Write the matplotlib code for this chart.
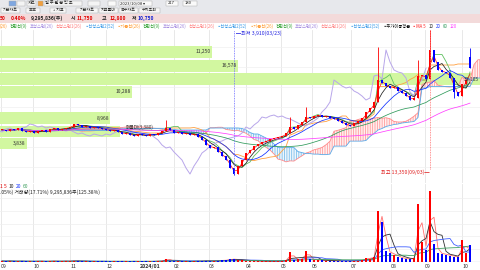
import matplotlib.pyplot as plt
import matplotlib.patches as mpatches
import numpy as np
import pandas as pd

plt.rcParams['font.family'] = ['Noto Sans CJK KR', 'DejaVu Sans']
plt.rcParams['hatch.linewidth'] = 0.6

W, H = 480, 270

# ---- data (roughly 2 trading days per bar) ----
closes = [6850, 6785, 6915, 6850, 6980, 6785, 6720, 6785, 6655, 6785,
          6850, 6720, 6915, 6980, 6850, 6915, 6980, 7045, 7240, 7175,
          7045, 7110, 6980, 7045, 6980, 6915, 6850, 6785, 6850, 6720,
          6590, 6655, 6525, 6460, 6590, 6525, 6460, 6590, 6525, 6655,
          6785, 6980, 6850, 6655, 6720, 6590, 6655, 6525, 6590, 6395,
          6200, 5875, 5680, 5745, 5420, 5160, 4900, 4380, 3990, 4510,
          4900, 5355, 5550, 5810, 5940, 6070, 6135, 6265, 6330, 6395,
          6460, 6655, 7045, 6915, 7175, 7370, 7695, 7630, 7760, 7825,
          7695, 7760, 7630, 7565, 7435, 7305, 7175, 7110, 7305, 7435,
          7630, 8020, 8280, 8670, 10100, 9905, 9710, 9580, 9645, 9385,
          9255, 9060, 8800, 8930, 10360, 10425, 10165, 12050, 11270, 10750,
          10620, 10555, 10230, 9320, 9060, 9840, 10100, 10880]
open_overrides = {117: 11600}
spike_highs = {41: 7500, 72: 7695, 76: 8345, 94: 12245, 104: 11400, 107: 13350, 117: 12180}
spike_lows = {58: 3910, 113: 8930}

volumes = [0.5, 0.4, 0.6, 0.3, 0.4, 0.5, 0.3, 0.4, 0.3, 0.5,
           0.4, 0.3, 0.4, 0.6, 0.3, 0.4, 0.5, 0.4, 0.8, 0.5,
           0.4, 0.3, 0.4, 0.3, 0.3, 0.4, 0.3, 0.3, 0.4, 0.3,
           0.4, 0.3, 0.3, 0.4, 0.3, 0.3, 0.4, 0.3, 0.4, 0.5,
           0.6, 1.8, 0.8, 0.5, 0.4, 0.3, 0.4, 0.3, 0.4, 0.5,
           0.6, 0.7, 0.6, 0.5, 0.8, 0.9, 1.0, 1.5, 1.6, 1.2,
           0.9, 0.8, 0.7, 0.6, 0.5, 0.5, 0.4, 0.5, 0.4, 0.5,
           0.6, 1.0, 5.5, 1.2, 1.5, 1.8, 6.2, 1.5, 1.2, 1.0,
           0.9, 0.8, 0.7, 0.6, 0.6, 0.7, 0.6, 0.5, 0.7, 0.8,
           1.0, 2.2, 1.8, 3.0, 28.0, 22.0, 6.0, 5.0, 4.0, 3.0,
           2.0, 1.8, 1.5, 2.0, 32.0, 11.0, 6.5, 39.0, 10.0, 5.0,
           4.5, 4.0, 3.5, 3.0, 2.5, 12.0, 5.0, 9.3]  # million shares

month_labels = ['09', '10', '11', '12', '2024/01', '02', '03', '04', '05', '06', '07', '08', '09', '10']
month_pos = [-0.25, 7.75, 17, 26, 34.5, 43, 51.75, 61, 69.75, 77.5, 87.25, 97.25, 105.75, 115]

# volume-profile bands (price range, share of chart width, label)
band_top = [12310, 11400, 10555, 9710, 8020, 7110, 6330]
band_bottom = [11530, 10620, 9775, 8930, 7240, 6395, 5615]
band_width = [0.442, 0.496, 1.05, 0.275, 0.23, 0.25, 0.056]
band_label = ['11,250', '16,578', '32,105', '10,288', '8,968', '', '3,838']

ma_windows = [2, 4, 9, 26, 51]          # 5/10/20/60/120 days in bars
ma_colors = ['#ff2020', '#202020', '#1030ff', '#2e9a5a', '#ff40ff']
vol_windows = [2, 4, 9, 26]
vol_colors = ['#ff7070', '#303030', '#4060ff', '#40a060']

low_date, high_date = '03/23', '09/03'

legend_items = [('(26)', '#ff9a30'), ('전환선(9)', '#30a030'), ('후행스팬(26)', '#a58be0'),
                ('선행스팬1(26)', '#ff8080'), ('▪선행스팬2(52)', '#3a9ae8'),
                ('▪기준선(26)', '#ff9a30'), ('전환선(9)', '#30a030'),
                ('후행스팬(26)', '#a58be0'), ('선행스팬1(26)', '#ff8080'),
                ('▪선행스팬2(52)', '#3a9ae8'), ('▪기준선(26)', '#ff9a30'),
                ('전환선(9)', '#30a030'), ('후행스팬(26)', '#a58be0'),
                ('선행스팬1(26)', '#ff8080'), ('▪선행스팬2(52)', '#3a9ae8'),
                ('▪주가이동평균', '#101010'), ('▪MA 5', '#ff2020'), ('10', '#202020'),
                ('20', '#1030ff'), ('60', '#2e9a5a'), ('120', '#ff40ff')]

# ---- figure ----
fig = plt.figure(figsize=(W / 100, H / 100), dpi=100)
fig.patch.set_facecolor('white')
renderer = fig.canvas.get_renderer()


def px_axes(x0, y0, x1, y1):
    return fig.add_axes([x0 / W, 1 - y1 / H, (x1 - x0) / W, (y1 - y0) / H])


def ftext(x, y, s, color='#222222', size=4.3, ha='left', **kw):
    return fig.text(x / W, 1 - y / H, s, color=color, fontsize=size, ha=ha, va='center', **kw)


def frect(x0, y0, x1, y1, color, **kw):
    fig.add_artist(mpatches.Rectangle((x0 / W, 1 - y1 / H), (x1 - x0) / W, (y1 - y0) / H,
                                      transform=fig.transFigure, facecolor=color, **kw))


# toolbar + info bar
frect(0, 0, 480, 14, '#e7e8ec', edgecolor='none')
frect(0, 14, 480, 23, '#f3dada', edgecolor='none')
frect(0, 13.6, 480, 14.2, '#b8b8b8', edgecolor='none')
for x0, x1, cl in [(9, 16, '#7fa7e0'), (17, 25, '#f4f4f4'), (27, 36, '#f4f4f4'), (38, 43, '#f0a040'),
                   (44, 82, '#f4f4f4'), (88, 100, '#f4f4f4'), (108, 116, '#fafafa'), (119, 152, '#fafafa'),
                   (166, 178, '#fafafa'), (183, 197, '#fafafa')]:
    frect(x0, 1, x1, 6, cl, edgecolor='#a8a8a8', linewidth=0.3)
ftext(27.5, 3.5, '차트', size=3.0)
ftext(45, 3.5, '일 주 월 분 틱 초', size=3.0)
ftext(120, 3.5, '2023/10/08 ▾', size=3.0)
ftext(168, 3.5, '217', size=3.0)
ftext(185, 3.5, '180', size=3.0)
for x0, x1, s in [(1, 20, '기본차트'), (26, 40, '▣▣'), (50, 66, '+ 지표'), (76, 98, '기본차트'),
                  (99, 118, '지표툴바'), (119, 138, '복수차트'), (139, 160, '수치조회')]:
    frect(x0, 7.5, x1, 12.5, '#f6f6f6', edgecolor='#a8a8a8', linewidth=0.3)
    ftext((x0 + x1) / 2, 10, s, size=2.9, ha='center')

info = [(0, '50', '#e00000'), (11, '0.40%', '#e00000'), (31, '9,295,836(주)', '#202020'),
        (71, '시', '#202020'), (77, '11,750', '#e00000'), (102, '고', '#202020'),
        (110, '12,800', '#e00000'), (132, '저', '#202020'), (138, '10,750', '#1020d0')]
for xx, s, cl in info:
    ftext(xx, 18.5, s, color=cl, size=3.6, fontweight='bold')

# legend row laid out left to right
size = 3.2
for attempt in range(4):
    xx = 0.0
    texts = []
    for s, cl in legend_items:
        t = ftext(xx, 26.5, s, color=cl, size=size)
        texts.append(t)
        xx += t.get_window_extent(renderer).width + 2.2
    if xx <= 460 or attempt == 3:
        break
    for t in texts:
        t.remove()
    size *= 458 / xx

# ---- price panel ----
ax = px_axes(0, 30, 480, 183)
axv = px_axes(0, 184, 480, 262)

n = len(closes)
x = np.arange(n)
c = np.array(closes, float)
o = np.r_[c[0], c[:-1]]
for k, v in open_overrides.items():
    o[k] = v
hi = np.maximum(o, c)
lo = np.minimum(o, c)
for k, v in spike_highs.items():
    hi[k] = v
for k, v in spike_lows.items():
    lo[k] = v
up = c >= o
col = np.where(up, '#ff0000', '#0000ff')

xmin, xmax = -0.5, 119.5
ax.set_xlim(xmin, xmax)
ax.set_ylim(3405, 13350)
axv.set_xlim(xmin, xmax)
axv.set_ylim(0, 42.7)

for a in (ax, axv):
    for sp in a.spines.values():
        sp.set_visible(False)
    a.set_yticks([])
    for p in month_pos:
        a.axvline(p, color='#e4e4e4', lw=0.6, zorder=0)
ax.set_xticks([])
for yv in [4450, 5750, 7050, 8350, 9650, 10950, 12250]:
    ax.axhline(yv, color='#f0f0f0', lw=0.5, zorder=0)
for yv in [7, 14, 21, 28, 35]:
    axv.axhline(yv, color='#eeeeee', lw=0.5, zorder=0)

# volume profile bands
for t, b, w, lab in zip(band_top, band_bottom, band_width, band_label):
    xe = xmin + w * (xmax - xmin)
    ax.fill_between([xmin, xe], b, t, color='#d2f7a0', lw=0, zorder=0.5)
    if lab:
        ax.text(min(xe, xmax) - 0.3, (t + b) / 2, lab, fontsize=3.6, color='#333333',
                ha='right', va='center', zorder=6)
ax.text(31, 7000, '매물대(3,380)', fontsize=3.4, color='#333333', va='center', zorder=6)

# ichimoku
s_hi, s_lo, s_c = pd.Series(hi), pd.Series(lo), pd.Series(c)


def midline(k):
    return ((s_hi.rolling(k, min_periods=1).max() + s_lo.rolling(k, min_periods=1).min()) / 2).values


lead = 11
conv = midline(4)
base = midline(11)
span1 = (conv + base) / 2
span2 = midline(22)
xl = x + lead
ax.fill_between(xl, span1, span2, where=span1 >= span2, interpolate=True, facecolor='#fff0f0',
                edgecolor='#ff9c9c', hatch='|||||||', lw=0, zorder=1)
ax.fill_between(xl, span1, span2, where=span1 < span2, interpolate=True, facecolor='#eef6fc',
                edgecolor='#7cbfec', hatch='|||||||', lw=0, zorder=1)
ax.plot(xl, span1, color='#ff8a8a', lw=0.6, zorder=2)
ax.plot(xl, span2, color='#5aaae8', lw=0.6, zorder=2)
ax.plot(x, base, color='#ffa040', lw=0.6, zorder=2)
ax.plot(x, conv, color='#60c060', lw=0.6, zorder=2)
ax.plot(x - lead, c, color='#b8a6ea', lw=0.7, zorder=2)

# moving averages
for win, mc in zip(ma_windows, ma_colors):
    ax.plot(x, s_c.rolling(win, min_periods=1).mean(), color=mc, lw=0.55, zorder=3)

# candles
ax.vlines(x, lo, hi, colors=col, lw=0.6, zorder=4)
body = np.maximum(np.abs(c - o), 45)
ax.bar(x, body, bottom=np.minimum(o, c), width=0.55, color=col, lw=0, zorder=4)

# high / low markers
i_low = int(np.argmin(lo))
i_high = int(np.argmax(hi))
ax.vlines(i_low, lo[i_low], 13350, colors='#6a6aff', linestyles=(0, (1, 1)), lw=0.6, zorder=5)
ax.vlines(i_high, 4300, 13350, colors='#ff7070', linestyles=(0, (1, 1)), lw=0.6, zorder=5)
ax.text(i_low + 0.5, 13140, f'─최저 {lo[i_low]:,.0f}({low_date})', color='#2020e0', fontsize=3.7,
        va='center', zorder=6)
ax.text(i_high - 0.2, 4120, f'최고 {hi[i_high]:,.0f}({high_date})─', color='#e02020', fontsize=3.7,
        va='center', ha='right', zorder=6)

# ---- volume panel ----
v = np.array(volumes)
axv.bar(x, v, width=0.45, color=col, lw=0, zorder=3)
s_v = pd.Series(v)
for win, vc in zip(vol_windows, vol_colors):
    axv.plot(x, s_v.rolling(win, min_periods=1).mean(), color=vc, lw=0.6, zorder=2)
axv.axhline(0, color='#5070a0', lw=0.8, zorder=4)
axv.set_xticks(month_pos)
axv.set_xticklabels(month_labels, fontsize=3.8, color='#333333', ha='left')
axv.tick_params(axis='x', length=0, pad=1.2)
for lab in axv.get_xticklabels():
    if '/' in lab.get_text():
        lab.set_fontweight('bold')

for xx, s, cc in [(0, '1', '#e00000'), (4, '5', '#e00000'), (9, '10', '#202020'), (16, '20', '#1030ff'),
                  (23, '60', '#40a060')]:
    ftext(xx, 187, s, color=cc, size=3.6)
ftext(0, 192.5, '.05%) 거래량(17.71%) 9,295,836주(125.38%)', size=3.6)

fig.savefig('out.png', dpi=100)
